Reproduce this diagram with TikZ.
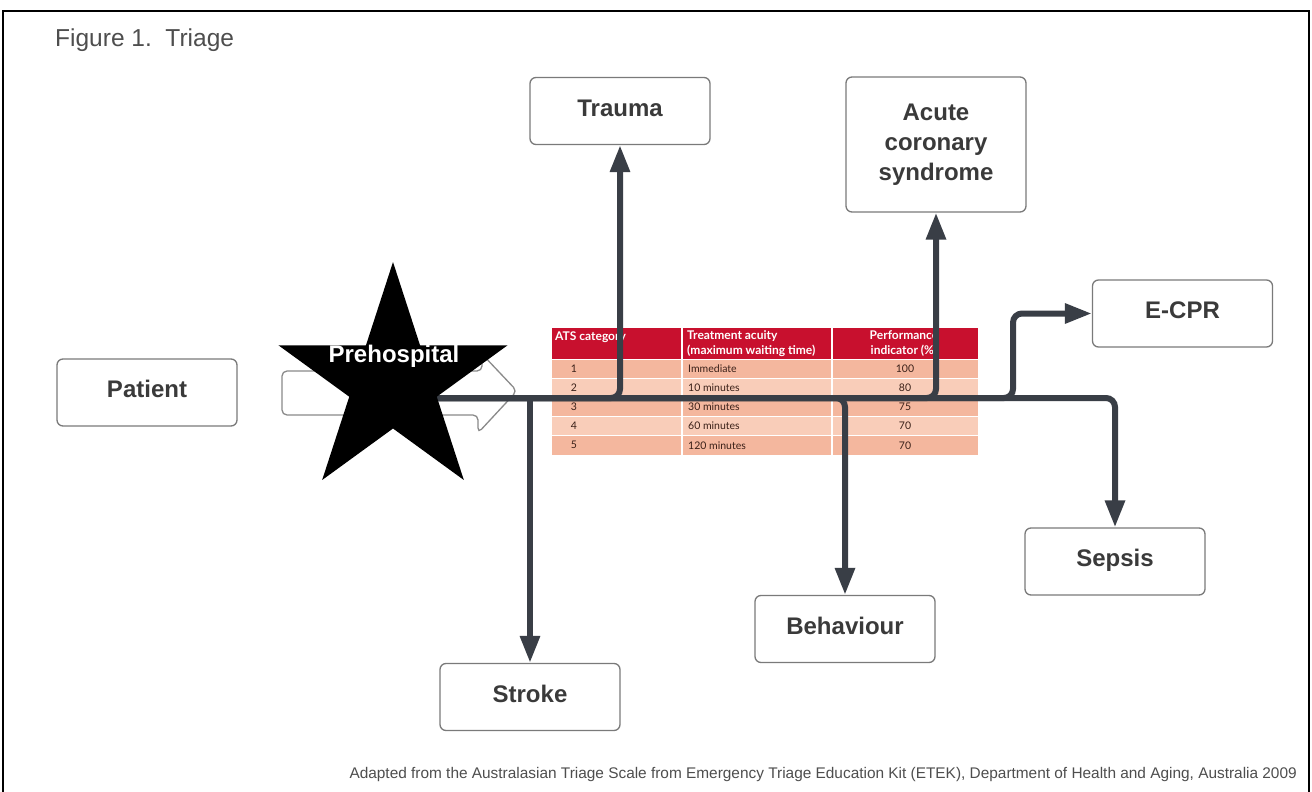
\documentclass[tikz,border=0pt]{standalone}
\usepackage{fontspec}
\setmainfont{Liberation Sans}
\newfontfamily\tabfont{Lato}
\usetikzlibrary{arrows.meta,calc}
\definecolor{conncol}{HTML}{393E46}
\definecolor{boxtext}{HTML}{3A3A3A}
\definecolor{boxline}{HTML}{7A7A7A}
\definecolor{hdrred}{HTML}{C8102E}
\definecolor{rowA}{HTML}{F4B79E}
\definecolor{rowB}{HTML}{F9CDB9}
\definecolor{figgray}{HTML}{4E4E4E}
\definecolor{celltext}{HTML}{3A2018}
\definecolor{arrowline}{HTML}{8A8A8A}
\tikzset{
  box/.style={draw=boxline, line width=1.3pt, rounded corners=6pt,
    minimum width=180pt, minimum height=67pt, inner sep=0pt,
    font=\fontsize{24}{30}\bfseries\selectfont, text=boxtext, align=center},
  onebox/.style={box, text height=17.2pt, text depth=7pt},
  conn/.style={draw=conncol, line width=6pt, rounded corners=9pt},
  tip/.style={-{Triangle[length=27pt,width=19pt]}},
  hdr/.style={inner sep=0pt, text=white, font=\tabfont\bfseries\fontsize{12}{15.5}\selectfont},
  cell/.style={inner sep=0pt, text=celltext, font=\tabfont\fontsize{10.5}{12}\selectfont},
}
\begin{document}
\begin{tikzpicture}[x=1pt,y=-1pt]
\useasboundingbox (0,0) rectangle (1312,792);
\fill[white] (0,0) rectangle (1312,792);
% frame
\draw[line width=2pt] (3,900) -- (3,11) -- (1309,11) -- (1309,900);

% title and footer
\node[anchor=base west, inner sep=0pt, text=figgray, font=\fontsize{24.5}{28}\selectfont] (title) at (55,47) {Figure 1.\ \ Triage};
\node[anchor=base east, inner sep=0pt, text=figgray, font=\fontsize{15.4}{17}\selectfont] (foot) at (1297,778) {Adapted from the Australasian Triage Scale from Emergency Triage Education Kit (ETEK), Department of Health and Aging, Australia 2009};

% boxes
\node[onebox] (trauma) at (620,111) {Trauma};
\node[box, minimum height=135pt] (acs) at (936,144.5) {Acute\\coronary\\syndrome};
\node[onebox] (patient) at (147,392.5) {Patient};
\node[onebox] (ecpr) at (1182.5,313.5) {E-CPR};
\node[onebox] (sepsis) at (1115,561.5) {Sepsis};
\node[onebox] (behav) at (845,629) {Behaviour};
\node[onebox] (strk) at (530,697) {Stroke};

% hollow block arrow behind the star
\draw[arrowline, line width=1.3pt, rounded corners=5pt]
  (282,371) -- (482,371) -- (482,354) -- (517,391) -- (478,433) -- (478,415) -- (282,415) -- cycle;

% table
\fill[hdrred] (552,328) rectangle (978,359);
\fill[rowA] (552,359) rectangle (978,378);
\fill[rowB] (552,378) rectangle (978,397);
\fill[rowA] (552,397) rectangle (978,416);
\fill[rowB] (552,416) rectangle (978,435.5);
\fill[rowA] (552,435.5) rectangle (978,455);
\foreach \yy in {359,378,397,416,435.5} \draw[white, line width=1pt] (552,\yy) -- (978,\yy);
\foreach \xx in {682,832} \draw[white, line width=2pt] (\xx,328) -- (\xx,455);
\node[hdr, anchor=west] (h1) at (555,337) {ATS category};
\node[hdr, anchor=north west, align=left] (h2) at (687,330) {Treatment acuity\\(maximum waiting time)};
\node[hdr, anchor=north, align=center] (h3) at (904,330) {Performance\\indicator (\%)};
\node[cell] (c11) at (574,368.5) {1};
\node[cell] (c21) at (574,387.5) {2};
\node[cell] (c31) at (574,406.5) {3};
\node[cell] (c41) at (574,425.75) {4};
\node[cell] (c51) at (574,445.25) {5};
\node[cell, anchor=west] (c12) at (688,368.5) {Immediate};
\node[cell, anchor=west] (c22) at (688,387.5) {10 minutes};
\node[cell, anchor=west] (c32) at (688,406.5) {30 minutes};
\node[cell, anchor=west] (c42) at (688,425.75) {60 minutes};
\node[cell, anchor=west] (c52) at (688,445.25) {120 minutes};
\node[cell] (c13) at (905,368.5) {100};
\node[cell] (c23) at (905,387.5) {80};
\node[cell] (c33) at (905,406.5) {75};
\node[cell] (c43) at (905,425.75) {70};
\node[cell] (c53) at (905,445.25) {70};

% connectors
\coordinate (starc) at (393,382.5);
\coordinate (m0) at (420,398);
\coordinate (ej) at (1013,313.5);
\draw[conn, tip] (m0) -| (sepsis.north);
\draw[conn, tip] (m0) -| (trauma.south);
\draw[conn, tip] (m0) -| (acs.south);
\draw[conn, tip] (m0) -| (behav.north);
\draw[conn, tip] (m0) -| (ej) -- (ecpr.west);
\draw[conn, tip, rounded corners=0pt] (strk.north |- m0) -- (strk.north);

% star
\begin{scope}[shift={(starc)}]
\fill[black] plot[samples at={0,...,9}] ({\x*36-90}:{46+74.5*(1-mod(\x,2))}) -- cycle;
\end{scope}
\node[inner sep=0pt, text=white, font=\fontsize{24}{28}\bfseries\selectfont] (pre) at (394,356) {Prehospital};
\end{tikzpicture}
\end{document}
